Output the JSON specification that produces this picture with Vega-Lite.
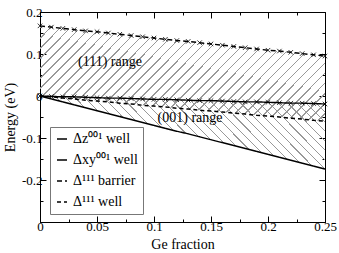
{
  "$schema": "https://vega.github.io/schema/vega-lite/v6.json",
  "width": 285,
  "height": 210,
  "autosize": {"type": "none"},
  "padding": {"left": 40, "top": 12, "right": 14, "bottom": 31},
  "background": "white",
  "config": {
    "view": {"stroke": "black", "strokeWidth": 1},
    "font": "Liberation Serif",
    "axis": {"grid": false, "domainColor": "black", "tickColor": "black", "labelColor": "black", "titleColor": "black", "labelFont": "Liberation Serif", "titleFont": "Liberation Serif", "labelFontSize": 13, "titleFontSize": 14, "titleFontWeight": "normal", "labelOverlap": false, "labelBound": false, "labelFlush": false},
    "legend": {"strokeColor": "#777", "fillColor": "white", "padding": 5, "symbolType": "stroke", "symbolSize": 100, "symbolStrokeColor": "black", "symbolStrokeWidth": 1, "labelFont": "Liberation Serif", "labelFontSize": 14, "labelColor": "black", "rowPadding": 7, "labelOffset": 4}
  },
  "datasets": {
    "lines": [
      {"x": 0.00, "z": 0.000, "xy": 0.000, "b": 0.167, "w": 0.000},
      {"x": 0.01, "z": -0.007, "xy": -0.001, "b": 0.164, "w": -0.002},
      {"x": 0.02, "z": -0.014, "xy": -0.002, "b": 0.161, "w": -0.005},
      {"x": 0.03, "z": -0.021, "xy": -0.002, "b": 0.158, "w": -0.007},
      {"x": 0.04, "z": -0.028, "xy": -0.003, "b": 0.155, "w": -0.010},
      {"x": 0.05, "z": -0.035, "xy": -0.004, "b": 0.153, "w": -0.012},
      {"x": 0.06, "z": -0.042, "xy": -0.005, "b": 0.150, "w": -0.014},
      {"x": 0.07, "z": -0.049, "xy": -0.005, "b": 0.147, "w": -0.017},
      {"x": 0.08, "z": -0.056, "xy": -0.006, "b": 0.144, "w": -0.019},
      {"x": 0.09, "z": -0.063, "xy": -0.007, "b": 0.141, "w": -0.022},
      {"x": 0.10, "z": -0.070, "xy": -0.008, "b": 0.138, "w": -0.024},
      {"x": 0.11, "z": -0.077, "xy": -0.008, "b": 0.135, "w": -0.026},
      {"x": 0.12, "z": -0.084, "xy": -0.009, "b": 0.132, "w": -0.029},
      {"x": 0.13, "z": -0.090, "xy": -0.010, "b": 0.130, "w": -0.031},
      {"x": 0.14, "z": -0.097, "xy": -0.011, "b": 0.127, "w": -0.034},
      {"x": 0.15, "z": -0.104, "xy": -0.011, "b": 0.124, "w": -0.036},
      {"x": 0.16, "z": -0.111, "xy": -0.012, "b": 0.121, "w": -0.038},
      {"x": 0.17, "z": -0.118, "xy": -0.013, "b": 0.118, "w": -0.041},
      {"x": 0.18, "z": -0.125, "xy": -0.014, "b": 0.115, "w": -0.043},
      {"x": 0.19, "z": -0.132, "xy": -0.014, "b": 0.112, "w": -0.046},
      {"x": 0.20, "z": -0.139, "xy": -0.015, "b": 0.109, "w": -0.048},
      {"x": 0.21, "z": -0.146, "xy": -0.016, "b": 0.107, "w": -0.050},
      {"x": 0.22, "z": -0.153, "xy": -0.017, "b": 0.104, "w": -0.053},
      {"x": 0.23, "z": -0.160, "xy": -0.017, "b": 0.101, "w": -0.055},
      {"x": 0.24, "z": -0.167, "xy": -0.018, "b": 0.098, "w": -0.058},
      {"x": 0.25, "z": -0.174, "xy": -0.019, "b": 0.095, "w": -0.060}
    ],
    "notes": [
      {"x": 0.0614, "E": 0.081, "label": "(111) range"},
      {"x": 0.1316, "E": -0.053, "label": "(001) range"}
    ]
  },
  "layer": [
    {
      "data": {"name": "lines"},
      "mark": {"type": "area", "opacity": 1, "strokeWidth": 0, "fill": {"gradient": "linear", "x1": 0, "y1": 0, "x2": 1.2, "y2": 0.4, "stops": [
        {"offset": 0.0050, "color": "transparent"}, {"offset": 0.0050, "color": "#999"}, {"offset": 0.0082, "color": "#999"}, {"offset": 0.0082, "color": "transparent"},
        {"offset": 0.0313, "color": "transparent"}, {"offset": 0.0313, "color": "#999"}, {"offset": 0.0345, "color": "#999"}, {"offset": 0.0345, "color": "transparent"},
        {"offset": 0.0576, "color": "transparent"}, {"offset": 0.0576, "color": "#999"}, {"offset": 0.0608, "color": "#999"}, {"offset": 0.0608, "color": "transparent"},
        {"offset": 0.0839, "color": "transparent"}, {"offset": 0.0839, "color": "#999"}, {"offset": 0.0871, "color": "#999"}, {"offset": 0.0871, "color": "transparent"},
        {"offset": 0.1102, "color": "transparent"}, {"offset": 0.1102, "color": "#999"}, {"offset": 0.1134, "color": "#999"}, {"offset": 0.1134, "color": "transparent"},
        {"offset": 0.1365, "color": "transparent"}, {"offset": 0.1365, "color": "#999"}, {"offset": 0.1397, "color": "#999"}, {"offset": 0.1397, "color": "transparent"},
        {"offset": 0.1628, "color": "transparent"}, {"offset": 0.1628, "color": "#999"}, {"offset": 0.1660, "color": "#999"}, {"offset": 0.1660, "color": "transparent"},
        {"offset": 0.1891, "color": "transparent"}, {"offset": 0.1891, "color": "#999"}, {"offset": 0.1923, "color": "#999"}, {"offset": 0.1923, "color": "transparent"},
        {"offset": 0.2154, "color": "transparent"}, {"offset": 0.2154, "color": "#999"}, {"offset": 0.2186, "color": "#999"}, {"offset": 0.2186, "color": "transparent"},
        {"offset": 0.2417, "color": "transparent"}, {"offset": 0.2417, "color": "#999"}, {"offset": 0.2449, "color": "#999"}, {"offset": 0.2449, "color": "transparent"},
        {"offset": 0.2680, "color": "transparent"}, {"offset": 0.2680, "color": "#999"}, {"offset": 0.2712, "color": "#999"}, {"offset": 0.2712, "color": "transparent"},
        {"offset": 0.2943, "color": "transparent"}, {"offset": 0.2943, "color": "#999"}, {"offset": 0.2975, "color": "#999"}, {"offset": 0.2975, "color": "transparent"},
        {"offset": 0.3206, "color": "transparent"}, {"offset": 0.3206, "color": "#999"}, {"offset": 0.3238, "color": "#999"}, {"offset": 0.3238, "color": "transparent"},
        {"offset": 0.3469, "color": "transparent"}, {"offset": 0.3469, "color": "#999"}, {"offset": 0.3501, "color": "#999"}, {"offset": 0.3501, "color": "transparent"},
        {"offset": 0.3732, "color": "transparent"}, {"offset": 0.3732, "color": "#999"}, {"offset": 0.3764, "color": "#999"}, {"offset": 0.3764, "color": "transparent"},
        {"offset": 0.3995, "color": "transparent"}, {"offset": 0.3995, "color": "#999"}, {"offset": 0.4027, "color": "#999"}, {"offset": 0.4027, "color": "transparent"},
        {"offset": 0.4258, "color": "transparent"}, {"offset": 0.4258, "color": "#999"}, {"offset": 0.4290, "color": "#999"}, {"offset": 0.4290, "color": "transparent"},
        {"offset": 0.4521, "color": "transparent"}, {"offset": 0.4521, "color": "#999"}, {"offset": 0.4553, "color": "#999"}, {"offset": 0.4553, "color": "transparent"},
        {"offset": 0.4784, "color": "transparent"}, {"offset": 0.4784, "color": "#999"}, {"offset": 0.4816, "color": "#999"}, {"offset": 0.4816, "color": "transparent"},
        {"offset": 0.5047, "color": "transparent"}, {"offset": 0.5047, "color": "#999"}, {"offset": 0.5079, "color": "#999"}, {"offset": 0.5079, "color": "transparent"},
        {"offset": 0.5310, "color": "transparent"}, {"offset": 0.5310, "color": "#999"}, {"offset": 0.5342, "color": "#999"}, {"offset": 0.5342, "color": "transparent"},
        {"offset": 0.5573, "color": "transparent"}, {"offset": 0.5573, "color": "#999"}, {"offset": 0.5605, "color": "#999"}, {"offset": 0.5605, "color": "transparent"},
        {"offset": 0.5836, "color": "transparent"}, {"offset": 0.5836, "color": "#999"}, {"offset": 0.5868, "color": "#999"}, {"offset": 0.5868, "color": "transparent"},
        {"offset": 0.6099, "color": "transparent"}, {"offset": 0.6099, "color": "#999"}, {"offset": 0.6131, "color": "#999"}, {"offset": 0.6131, "color": "transparent"},
        {"offset": 0.6362, "color": "transparent"}, {"offset": 0.6362, "color": "#999"}, {"offset": 0.6394, "color": "#999"}, {"offset": 0.6394, "color": "transparent"},
        {"offset": 0.6625, "color": "transparent"}, {"offset": 0.6625, "color": "#999"}, {"offset": 0.6657, "color": "#999"}, {"offset": 0.6657, "color": "transparent"},
        {"offset": 0.6888, "color": "transparent"}, {"offset": 0.6888, "color": "#999"}, {"offset": 0.6920, "color": "#999"}, {"offset": 0.6920, "color": "transparent"},
        {"offset": 0.7151, "color": "transparent"}, {"offset": 0.7151, "color": "#999"}, {"offset": 0.7183, "color": "#999"}, {"offset": 0.7183, "color": "transparent"},
        {"offset": 0.7414, "color": "transparent"}, {"offset": 0.7414, "color": "#999"}, {"offset": 0.7446, "color": "#999"}, {"offset": 0.7446, "color": "transparent"},
        {"offset": 0.7677, "color": "transparent"}, {"offset": 0.7677, "color": "#999"}, {"offset": 0.7709, "color": "#999"}, {"offset": 0.7709, "color": "transparent"},
        {"offset": 0.7940, "color": "transparent"}, {"offset": 0.7940, "color": "#999"}, {"offset": 0.7972, "color": "#999"}, {"offset": 0.7972, "color": "transparent"},
        {"offset": 0.8203, "color": "transparent"}, {"offset": 0.8203, "color": "#999"}, {"offset": 0.8235, "color": "#999"}, {"offset": 0.8235, "color": "transparent"},
        {"offset": 0.8466, "color": "transparent"}, {"offset": 0.8466, "color": "#999"}, {"offset": 0.8498, "color": "#999"}, {"offset": 0.8498, "color": "transparent"},
        {"offset": 0.8729, "color": "transparent"}, {"offset": 0.8729, "color": "#999"}, {"offset": 0.8761, "color": "#999"}, {"offset": 0.8761, "color": "transparent"},
        {"offset": 0.8992, "color": "transparent"}, {"offset": 0.8992, "color": "#999"}, {"offset": 0.9024, "color": "#999"}, {"offset": 0.9024, "color": "transparent"},
        {"offset": 0.9255, "color": "transparent"}, {"offset": 0.9255, "color": "#999"}, {"offset": 0.9287, "color": "#999"}, {"offset": 0.9287, "color": "transparent"},
        {"offset": 0.9518, "color": "transparent"}, {"offset": 0.9518, "color": "#999"}, {"offset": 0.9550, "color": "#999"}, {"offset": 0.9550, "color": "transparent"},
        {"offset": 0.9781, "color": "transparent"}, {"offset": 0.9781, "color": "#999"}, {"offset": 0.9813, "color": "#999"}, {"offset": 0.9813, "color": "transparent"}
      ]}},
      "encoding": {
        "x": {"field": "x", "type": "quantitative", "scale": {"domain": [0, 0.25], "nice": false},
          "axis": {"orient": "bottom", "title": "Ge fraction", "values": [0, 0.025, 0.05, 0.075, 0.1, 0.125, 0.15, 0.175, 0.2, 0.225, 0.25],
            "labelExpr": "abs(datum.value*20-round(datum.value*20))<0.001 ? format(datum.value,'.2~f') : ''",
            "tickSize": {"condition": {"test": "abs(datum.value*20-round(datum.value*20))<0.001", "value": -6}, "value": -3},
            "labelPadding": 4, "titlePadding": 1}},
        "y": {"field": "b", "type": "quantitative", "scale": {"domain": [-0.3, 0.2], "nice": false},
          "axis": {"orient": "left", "title": "Energy (eV)", "values": [-0.3, -0.25, -0.2, -0.15, -0.1, -0.05, 0, 0.05, 0.1, 0.15, 0.2],
            "labelExpr": "abs(datum.value*10-round(datum.value*10))<0.001 && datum.value > -0.25 ? replace(format(datum.value,'.1~f'),'−','-') : ''",
            "tickSize": {"condition": {"test": "abs(datum.value*10-round(datum.value*10))<0.001", "value": -6}, "value": -3},
            "labelPadding": 4, "titlePadding": 4}},
        "y2": {"field": "w"}
      }
    },
    {
      "data": {"name": "lines"},
      "mark": {"type": "area", "opacity": 1, "strokeWidth": 0, "fill": {"gradient": "linear", "x1": 0, "y1": 1, "x2": 1.18, "y2": 0.7, "stops": [
        {"offset": 0.0050, "color": "transparent"}, {"offset": 0.0050, "color": "#999"}, {"offset": 0.0082, "color": "#999"}, {"offset": 0.0082, "color": "transparent"},
        {"offset": 0.0313, "color": "transparent"}, {"offset": 0.0313, "color": "#999"}, {"offset": 0.0345, "color": "#999"}, {"offset": 0.0345, "color": "transparent"},
        {"offset": 0.0576, "color": "transparent"}, {"offset": 0.0576, "color": "#999"}, {"offset": 0.0608, "color": "#999"}, {"offset": 0.0608, "color": "transparent"},
        {"offset": 0.0839, "color": "transparent"}, {"offset": 0.0839, "color": "#999"}, {"offset": 0.0871, "color": "#999"}, {"offset": 0.0871, "color": "transparent"},
        {"offset": 0.1102, "color": "transparent"}, {"offset": 0.1102, "color": "#999"}, {"offset": 0.1134, "color": "#999"}, {"offset": 0.1134, "color": "transparent"},
        {"offset": 0.1365, "color": "transparent"}, {"offset": 0.1365, "color": "#999"}, {"offset": 0.1397, "color": "#999"}, {"offset": 0.1397, "color": "transparent"},
        {"offset": 0.1628, "color": "transparent"}, {"offset": 0.1628, "color": "#999"}, {"offset": 0.1660, "color": "#999"}, {"offset": 0.1660, "color": "transparent"},
        {"offset": 0.1891, "color": "transparent"}, {"offset": 0.1891, "color": "#999"}, {"offset": 0.1923, "color": "#999"}, {"offset": 0.1923, "color": "transparent"},
        {"offset": 0.2154, "color": "transparent"}, {"offset": 0.2154, "color": "#999"}, {"offset": 0.2186, "color": "#999"}, {"offset": 0.2186, "color": "transparent"},
        {"offset": 0.2417, "color": "transparent"}, {"offset": 0.2417, "color": "#999"}, {"offset": 0.2449, "color": "#999"}, {"offset": 0.2449, "color": "transparent"},
        {"offset": 0.2680, "color": "transparent"}, {"offset": 0.2680, "color": "#999"}, {"offset": 0.2712, "color": "#999"}, {"offset": 0.2712, "color": "transparent"},
        {"offset": 0.2943, "color": "transparent"}, {"offset": 0.2943, "color": "#999"}, {"offset": 0.2975, "color": "#999"}, {"offset": 0.2975, "color": "transparent"},
        {"offset": 0.3206, "color": "transparent"}, {"offset": 0.3206, "color": "#999"}, {"offset": 0.3238, "color": "#999"}, {"offset": 0.3238, "color": "transparent"},
        {"offset": 0.3469, "color": "transparent"}, {"offset": 0.3469, "color": "#999"}, {"offset": 0.3501, "color": "#999"}, {"offset": 0.3501, "color": "transparent"},
        {"offset": 0.3732, "color": "transparent"}, {"offset": 0.3732, "color": "#999"}, {"offset": 0.3764, "color": "#999"}, {"offset": 0.3764, "color": "transparent"},
        {"offset": 0.3995, "color": "transparent"}, {"offset": 0.3995, "color": "#999"}, {"offset": 0.4027, "color": "#999"}, {"offset": 0.4027, "color": "transparent"},
        {"offset": 0.4258, "color": "transparent"}, {"offset": 0.4258, "color": "#999"}, {"offset": 0.4290, "color": "#999"}, {"offset": 0.4290, "color": "transparent"},
        {"offset": 0.4521, "color": "transparent"}, {"offset": 0.4521, "color": "#999"}, {"offset": 0.4553, "color": "#999"}, {"offset": 0.4553, "color": "transparent"},
        {"offset": 0.4784, "color": "transparent"}, {"offset": 0.4784, "color": "#999"}, {"offset": 0.4816, "color": "#999"}, {"offset": 0.4816, "color": "transparent"},
        {"offset": 0.5047, "color": "transparent"}, {"offset": 0.5047, "color": "#999"}, {"offset": 0.5079, "color": "#999"}, {"offset": 0.5079, "color": "transparent"},
        {"offset": 0.5310, "color": "transparent"}, {"offset": 0.5310, "color": "#999"}, {"offset": 0.5342, "color": "#999"}, {"offset": 0.5342, "color": "transparent"},
        {"offset": 0.5573, "color": "transparent"}, {"offset": 0.5573, "color": "#999"}, {"offset": 0.5605, "color": "#999"}, {"offset": 0.5605, "color": "transparent"},
        {"offset": 0.5836, "color": "transparent"}, {"offset": 0.5836, "color": "#999"}, {"offset": 0.5868, "color": "#999"}, {"offset": 0.5868, "color": "transparent"},
        {"offset": 0.6099, "color": "transparent"}, {"offset": 0.6099, "color": "#999"}, {"offset": 0.6131, "color": "#999"}, {"offset": 0.6131, "color": "transparent"},
        {"offset": 0.6362, "color": "transparent"}, {"offset": 0.6362, "color": "#999"}, {"offset": 0.6394, "color": "#999"}, {"offset": 0.6394, "color": "transparent"},
        {"offset": 0.6625, "color": "transparent"}, {"offset": 0.6625, "color": "#999"}, {"offset": 0.6657, "color": "#999"}, {"offset": 0.6657, "color": "transparent"},
        {"offset": 0.6888, "color": "transparent"}, {"offset": 0.6888, "color": "#999"}, {"offset": 0.6920, "color": "#999"}, {"offset": 0.6920, "color": "transparent"},
        {"offset": 0.7151, "color": "transparent"}, {"offset": 0.7151, "color": "#999"}, {"offset": 0.7183, "color": "#999"}, {"offset": 0.7183, "color": "transparent"},
        {"offset": 0.7414, "color": "transparent"}, {"offset": 0.7414, "color": "#999"}, {"offset": 0.7446, "color": "#999"}, {"offset": 0.7446, "color": "transparent"},
        {"offset": 0.7677, "color": "transparent"}, {"offset": 0.7677, "color": "#999"}, {"offset": 0.7709, "color": "#999"}, {"offset": 0.7709, "color": "transparent"},
        {"offset": 0.7940, "color": "transparent"}, {"offset": 0.7940, "color": "#999"}, {"offset": 0.7972, "color": "#999"}, {"offset": 0.7972, "color": "transparent"},
        {"offset": 0.8203, "color": "transparent"}, {"offset": 0.8203, "color": "#999"}, {"offset": 0.8235, "color": "#999"}, {"offset": 0.8235, "color": "transparent"},
        {"offset": 0.8466, "color": "transparent"}, {"offset": 0.8466, "color": "#999"}, {"offset": 0.8498, "color": "#999"}, {"offset": 0.8498, "color": "transparent"},
        {"offset": 0.8729, "color": "transparent"}, {"offset": 0.8729, "color": "#999"}, {"offset": 0.8761, "color": "#999"}, {"offset": 0.8761, "color": "transparent"},
        {"offset": 0.8992, "color": "transparent"}, {"offset": 0.8992, "color": "#999"}, {"offset": 0.9024, "color": "#999"}, {"offset": 0.9024, "color": "transparent"},
        {"offset": 0.9255, "color": "transparent"}, {"offset": 0.9255, "color": "#999"}, {"offset": 0.9287, "color": "#999"}, {"offset": 0.9287, "color": "transparent"},
        {"offset": 0.9518, "color": "transparent"}, {"offset": 0.9518, "color": "#999"}, {"offset": 0.9550, "color": "#999"}, {"offset": 0.9550, "color": "transparent"},
        {"offset": 0.9781, "color": "transparent"}, {"offset": 0.9781, "color": "#999"}, {"offset": 0.9813, "color": "#999"}, {"offset": 0.9813, "color": "transparent"}
      ]}},
      "encoding": {
        "x": {"field": "x", "type": "quantitative", "scale": {"domain": [0, 0.25], "nice": false},
          "axis": {"orient": "top", "title": null, "labels": false, "domain": false, "values": [0, 0.025, 0.05, 0.075, 0.1, 0.125, 0.15, 0.175, 0.2, 0.225, 0.25],
            "tickSize": {"condition": {"test": "abs(datum.value*20-round(datum.value*20))<0.001", "value": -6}, "value": -3}}},
        "y": {"field": "xy", "type": "quantitative", "scale": {"domain": [-0.3, 0.2], "nice": false},
          "axis": {"orient": "right", "title": null, "labels": false, "domain": false, "values": [-0.3, -0.25, -0.2, -0.15, -0.1, -0.05, 0, 0.05, 0.1, 0.15, 0.2],
            "tickSize": {"condition": {"test": "abs(datum.value*10-round(datum.value*10))<0.001", "value": -6}, "value": -3}}},
        "y2": {"field": "z"}
      }
    },
    {
      "data": {"name": "lines"},
      "transform": [{"fold": ["z", "xy", "b", "w"], "as": ["key", "E"]}],
      "mark": {"type": "line", "stroke": "black"},
      "encoding": {
        "x": {"field": "x", "type": "quantitative", "scale": {"domain": [0, 0.25], "nice": false}, "axis": null},
        "y": {"field": "E", "type": "quantitative", "scale": {"domain": [-0.3, 0.2], "nice": false}, "axis": null},
        "strokeDash": {"field": "key", "type": "nominal",
          "scale": {"domain": ["z", "xy", "b", "w"], "range": [[1, 0], [1, 0], [5, 3], [4, 3]]},
          "legend": {"orient": "none", "legendX": 10, "legendY": 115, "title": null,
            "labelExpr": "datum.label == 'z' ? 'Δz⁰⁰¹ well' : datum.label == 'xy' ? 'Δxy⁰⁰¹ well' : datum.label == 'b' ? 'Δ¹¹¹ barrier' : 'Δ¹¹¹ well'"}},
        "strokeWidth": {"field": "key", "type": "nominal", "scale": {"domain": ["z", "xy", "b", "w"], "range": [1.4, 1.5, 1, 1]}, "legend": null}
      }
    },
    {
      "data": {"name": "lines"},
      "transform": [{"fold": ["xy", "b"], "as": ["key", "E"]}],
      "mark": {"type": "point", "shape": "M-1,-1L1,1M-1,1L1,-1", "size": 20, "stroke": "black", "strokeWidth": 0.8, "filled": false, "opacity": 1},
      "encoding": {
        "x": {"field": "x", "type": "quantitative", "scale": {"domain": [0, 0.25], "nice": false}, "axis": null},
        "y": {"field": "E", "type": "quantitative", "scale": {"domain": [-0.3, 0.2], "nice": false}, "axis": null},
        "detail": {"field": "key", "type": "nominal"}
      }
    },
    {
      "data": {"name": "notes"},
      "mark": {"type": "text", "font": "Liberation Serif", "fontSize": 14, "color": "black", "align": "center", "baseline": "middle"},
      "encoding": {
        "x": {"field": "x", "type": "quantitative", "scale": {"domain": [0, 0.25], "nice": false}, "axis": null},
        "y": {"field": "E", "type": "quantitative", "scale": {"domain": [-0.3, 0.2], "nice": false}, "axis": null},
        "text": {"field": "label"}
      }
    }
  ],
  "resolve": {"axis": {"x": "independent", "y": "independent"}}
}
